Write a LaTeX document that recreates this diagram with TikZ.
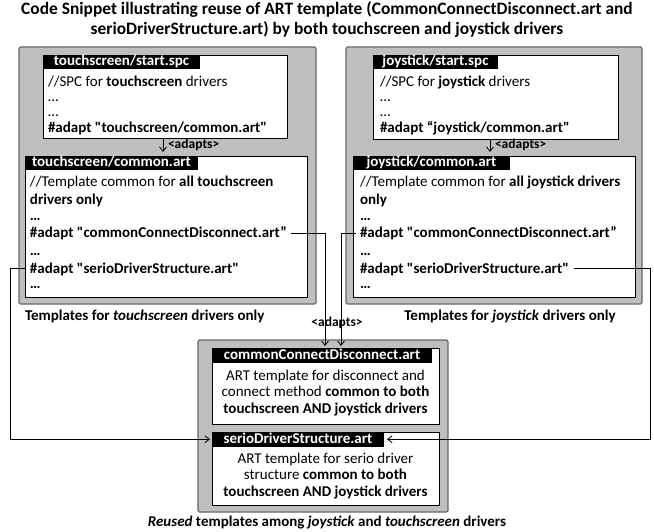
\documentclass[tikz,border=0pt]{standalone}
\usepackage{fontspec}
\setmainfont{Carlito}[Ligatures=TeXOff]
\usetikzlibrary{arrows.meta}

\newcommand{\bodyfont}{\fontsize{15}{16.5}\selectfont}
\newcommand{\tagfont}{\fontsize{15}{17}\selectfont\bfseries}
\newcommand{\smallbold}{\fontsize{13.5}{15}\selectfont\bfseries}
\newcommand{\titlefont}{\fontsize{17.4}{19.5}\selectfont\bfseries}

\begin{document}
\begin{tikzpicture}[x=1pt,y=-1pt,
  every node/.style={inner sep=0pt, outer sep=0pt},
  panel/.style={draw=black!60, fill=black!25, line width=1.1pt, rounded corners=1.5pt, anchor=north west},
  codebox/.style={draw=black, fill=white, line width=0.9pt, anchor=north west},
  tag/.style={fill=black, text=white, font=\tagfont, anchor=north west,
    minimum height=14.5pt, text height=10pt, text depth=2.5pt},
  ln/.style={anchor=west, font=\bodyfont, text height=10pt, text depth=0pt},
  blurb/.style={font=\bodyfont, align=center},
  note/.style={font=\bodyfont\bfseries, text height=10pt, text depth=0pt},
  link/.style={draw=black, line width=0.8pt},
  arr/.style={link, -{Straight Barb[length=4.5pt,width=7pt]}},
  adapts/.style={font=\smallbold, text height=8pt, text depth=0pt}
]
\useasboundingbox (0,0) rectangle (654,532);

% title
\node[font=\titlefont, align=center, anchor=north] (title) at (327,2)
  {Code Snippet illustrating reuse of ART template (CommonConnectDisconnect.art and\\
   serioDriverStructure.art) by both touchscreen and joystick drivers};

% grey panels
\node[panel, minimum width=297pt, minimum height=257pt] (tspanel) at (19,47) {};
\node[panel, minimum width=296pt, minimum height=257pt] (jspanel) at (346,47) {};
\node[panel, minimum width=250pt, minimum height=172pt] (sharedpanel) at (198,340) {};

% touchscreen files
\node[codebox, minimum width=244pt, minimum height=83pt] (tsstart) at (43,55) {};
\node[tag, minimum width=157pt] (tsstarttag) at (tsstart.north west) {touchscreen/start.spc};
\node[ln] (tss1) at (48,82) {//SPC for \textbf{touchscreen} drivers};
\node[ln] (tss2) at (48,97) {…};
\node[ln] (tss3) at (48,112) {…};
\node[ln] (tss4) at (48,128) {\textbf{\#adapt "touchscreen/common.art"}};

\node[codebox, minimum width=282pt, minimum height=141pt] (tscommon) at (25,156) {};
\node[tag, minimum width=173pt] (tscommontag) at (tscommon.north west) {touchscreen/common.art};
\node[ln] (tsc1) at (30,182) {//Template common for \textbf{all touchscreen}};
\node[ln] (tsc2) at (30,200) {\textbf{drivers only}};
\node[ln] (tsc3) at (30,216) {\textbf{…}};
\node[ln] (tsccd) at (30,233) {\textbf{\#adapt "commonConnectDisconnect.art”}};
\node[ln] (tsc5) at (30,250) {\textbf{…}};
\node[ln] (tsserio) at (30,268) {\textbf{\#adapt "serioDriverStructure.art"}};
\node[ln] (tsc7) at (30,283) {\textbf{…}};

% joystick files
\node[codebox, minimum width=245pt, minimum height=84pt] (jsstart) at (373,55) {};
\node[tag, minimum width=125pt] (jsstarttag) at (jsstart.north west) {joystick/start.spc};
\node[ln] (jss1) at (380,82) {//SPC for \textbf{joystick} drivers};
\node[ln] (jss2) at (380,97) {…};
\node[ln] (jss3) at (380,112) {…};
\node[ln] (jss4) at (380,128) {\textbf{\#adapt “joystick/common.art"}};

\node[codebox, minimum width=282pt, minimum height=141pt] (jscommon) at (353,156) {};
\node[tag, minimum width=157pt] (jscommontag) at (jscommon.north west) {joystick/common.art};
\node[ln] (jsc1) at (360,182) {//Template common for \textbf{all joystick drivers}};
\node[ln] (jsc2) at (360,200) {\textbf{only}};
\node[ln] (jsc3) at (360,216) {\textbf{…}};
\node[ln] (jsccd) at (360,233) {\textbf{\#adapt "commonConnectDisconnect.art”}};
\node[ln] (jsc5) at (360,250) {\textbf{…}};
\node[ln] (jsserio) at (360,268) {\textbf{\#adapt "serioDriverStructure.art"}};
\node[ln] (jsc7) at (360,283) {\textbf{…}};

% shared templates
\node[codebox, minimum width=227pt, minimum height=76pt] (ccd) at (212,348) {};
\node[tag, minimum width=220pt] (ccdtag) at (ccd.north west) {commonConnectDisconnect.art};
\node[blurb] (ccdtext) at (325.5,393)
  {ART template for disconnect and\\
   connect method \textbf{common to both}\\
   \textbf{touchscreen AND joystick drivers}};

\node[codebox, minimum width=227pt, minimum height=73pt] (serio) at (212,432) {};
\node[tag, minimum width=172pt] (seriotag) at (serio.north west) {serioDriverStructure.art};
\node[blurb] (seriotext) at (325.5,476)
  {ART template for serio driver\\
   structure \textbf{common to both}\\
   \textbf{touchscreen AND joystick drivers}};

% captions
\node[note, anchor=west] (tscap) at (25,315) {Templates for \textit{touchscreen} drivers only};
\node[note] (jscap) at (510,315) {Templates for \textit{joystick} drivers only};
\node[note] (sharedcap) at (327,521)
  {\textit{Reused} templates among \textit{joystick} and \textit{touchscreen} drivers};

% adapts relations
\draw[arr, shorten >=4pt] (163,0 |- tsstart.south) -- (163,0 |- tscommon.north);
\node[adapts, anchor=west] (tsadapts) at (168,145) {<adapts>};
\draw[arr, shorten >=4pt] (490,0 |- jsstart.south) -- (490,0 |- jscommon.north);
\node[adapts, anchor=west] (jsadapts) at (495,145) {<adapts>};

\draw[arr, shorten >=2pt] ([xshift=4pt]tsccd.east) -| (325,0 |- ccd.north);
\draw[arr, shorten >=2pt] ([xshift=-4pt]jsccd.west) -| (341,0 |- ccd.north);
\node[adapts] (sharedadapts) at (337,322) {<adapts>};

\draw[arr, shorten >=2pt] (tscommon.west |- tsserio.west) -- (10,0 |- tsserio.west) |- (seriotag.west);
\draw[arr, shorten >=3pt] ([xshift=5pt]jsserio.east) -- (650,0 |- jsserio.east) |- (seriotag.east);
\end{tikzpicture}
\end{document}
